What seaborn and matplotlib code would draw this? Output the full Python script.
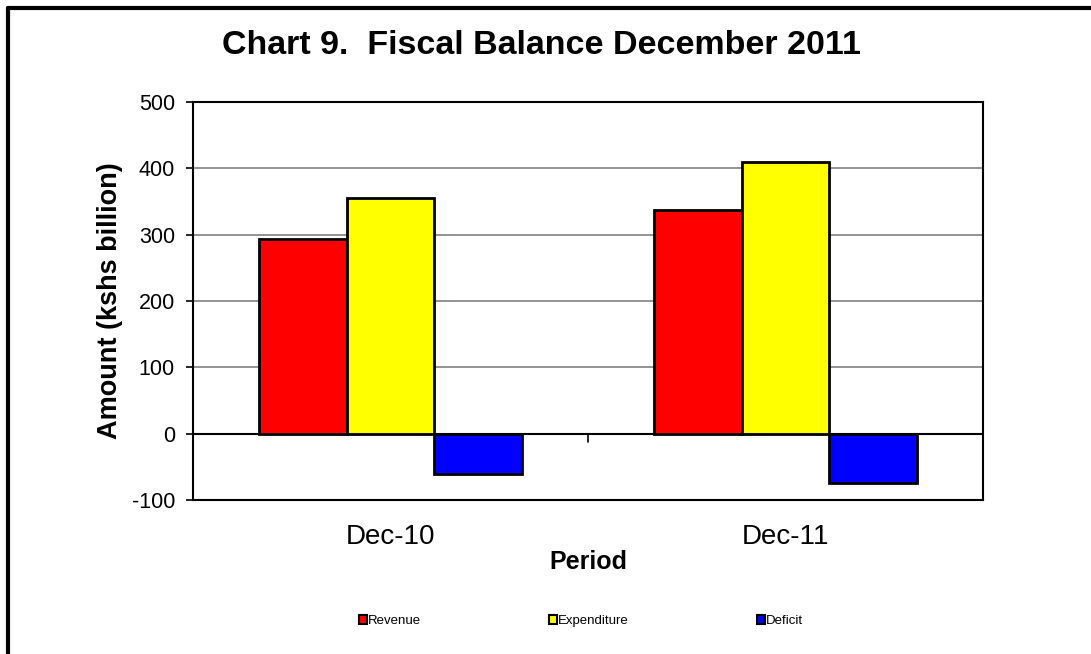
import matplotlib
matplotlib.use("Agg")
import matplotlib.pyplot as plt
from matplotlib.lines import Line2D
from matplotlib.patches import Patch
import seaborn as sns
import pandas as pd

periods = ["Dec-10", "Dec-11"]
series = ["Revenue", "Expenditure", "Deficit"]
revenue = [293, 337]
expenditure = [356, 409]
deficit = [-61, -74]
colors = ["#FF0000", "#FFFF00", "#0000FF"]

df = pd.DataFrame({
    "Period": periods * 3,
    "Series": [s for s in series for _ in periods],
    "Amount": revenue + expenditure + deficit,
})

sns.set_theme(style="white")
plt.rcParams["font.family"] = ["Liberation Sans", "DejaVu Sans"]
plt.rcParams["axes.unicode_minus"] = False
for key in ("text.color", "axes.labelcolor", "xtick.color", "ytick.color"):
    plt.rcParams[key] = "black"

fig = plt.figure(figsize=(10.91, 6.54), dpi=100)
ax = fig.add_axes([193 / 1091, 1 - 500 / 654, 790 / 1091, 398 / 654])

sns.barplot(data=df, x="Period", y="Amount", hue="Series", order=periods,
            hue_order=series, palette=colors, width=0.665, dodge=True,
            edgecolor="black", linewidth=2, saturation=1, legend=False,
            errorbar=None, ax=ax, zorder=3)

ax.set_xlim(-0.5, 1.5)
ax.set_ylim(-100, 500)
ax.set_yticks(range(-100, 501, 100))
ax.yaxis.grid(True, color="#808080", linewidth=1.2, zorder=0)
ax.axhline(0, color="black", linewidth=1.5, zorder=2)
for sp in ax.spines.values():
    sp.set_visible(True)
    sp.set_color("black")
    sp.set_linewidth(1.5)

ax.tick_params(axis="y", left=True, length=5, width=1.2, color="black",
               labelsize=15.5, pad=8)
ax.tick_params(axis="x", bottom=False, labelsize=20, pad=11)
# category boundary tick on the zero line
ax.add_line(Line2D([0.5, 0.5], [0, -12], color="black", linewidth=1.2,
                   zorder=4))

ax.set_ylabel("Amount (kshs billion)", fontsize=19.5, fontweight="bold",
              labelpad=6)
ax.set_xlabel("Period", fontsize=18, fontweight="bold", labelpad=0)

fig.text(541 / 1091, 1 - 46 / 654,
         "Chart 9.  Fiscal Balance December 2011", ha="center",
         va="center", fontsize=24.5, fontweight="bold")

handles = [Patch(facecolor=c, edgecolor="black", linewidth=1.5)
           for c in colors]
legend_x = [359 / 1091, 549 / 1091, 757 / 1091]
for h, lab, lx in zip(handles, series, legend_x):
    fig.legend([h], [lab], loc="center left",
               bbox_to_anchor=(lx, 1 - 621 / 654), frameon=False,
               fontsize=9.5, handlelength=0.6, handleheight=0.6,
               handletextpad=0.05, borderpad=0, borderaxespad=0)

# outer chart frame (left and top edges)
fig.add_artist(Line2D([8 / 1091, 8 / 1091], [0, 1 - 7.5 / 654],
                      transform=fig.transFigure, color="black",
                      linewidth=3))
fig.add_artist(Line2D([8 / 1091, 1], [1 - 7.5 / 654, 1 - 7.5 / 654],
                      transform=fig.transFigure, color="black",
                      linewidth=3))

fig.savefig("out.png", dpi=100)
